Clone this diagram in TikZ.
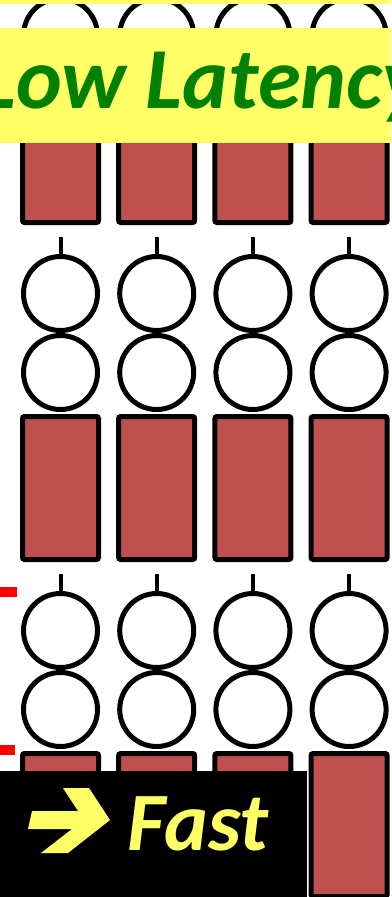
\documentclass[tikz,border=0pt]{standalone}
\usepackage{fontspec}
\newfontfamily\carlito{Carlito}
\definecolor{barred}{RGB}{192,80,77}
\definecolor{bandyellow}{RGB}{255,255,102}
\definecolor{darkgreen}{RGB}{0,128,0}
\tikzset{
  ball/.style={circle,draw=black,line width=5pt,fill=white,minimum size=74pt,inner sep=0pt},
  bar/.style={rectangle,draw=black,line width=5pt,fill=barred,minimum width=76pt,minimum height=143pt,inner sep=0pt,rounded corners=2pt},
  stem/.style={draw=black,line width=4pt},
  redmark/.style={fill=red,draw=none},
}
\begin{document}
\begin{tikzpicture}[x=1pt,y=-1pt]
\useasboundingbox (0,0) rectangle (391,897);
\clip (0,0) rectangle (391,897);
\fill[white] (0,0) rectangle (391,897);
\foreach \s/\off in {0/-337,1/0,2/337}{
  \foreach \i in {0,1,2,3}{
    \pgfmathsetmacro{\cx}{60.5+96.2*\i}
    \coordinate (t\s\i) at (\cx,237+\off);
    \node[ball] (a\s\i) at (\cx,293.5+\off) {};
    \node[ball] (b\s\i) at (\cx,372.5+\off) {};
    \node[bar] (r\s\i) at (\cx,488+\off) {};
    \draw[stem] (t\s\i) -- (a\s\i.north);
  }
}
% yellow top strip and band
\fill[bandyellow] (0,0) rectangle (391,3.5);
\node[fill=bandyellow,minimum width=391pt,minimum height=115pt,inner sep=0pt,anchor=north west] (band) at (0,28) {};
\node[anchor=base west,inner sep=0pt,text=darkgreen,font=\carlito\bfseries\itshape\fontsize{87}{87}\selectfont] (title) at (-21,108) {Low Latency};
% red marks
\fill[redmark] (0,587) rectangle (17,597);
\fill[redmark] (0,745) rectangle (15,755);
% black box
\node[fill=black,minimum width=307pt,minimum height=126pt,inner sep=0pt,anchor=north west] (box) at (0,771) {};
\fill[bandyellow] (32,811) -- (78,811) -- (63,788) -- (89,788) -- (110,820) -- (68,853) -- (41,853) -- (72,829) -- (28,829) -- cycle;
\node[anchor=base west,inner sep=0pt,text=bandyellow,font=\carlito\bfseries\itshape\fontsize{83}{83}\selectfont] (fast) at (127,850) {Fast};
\end{tikzpicture}
\end{document}
